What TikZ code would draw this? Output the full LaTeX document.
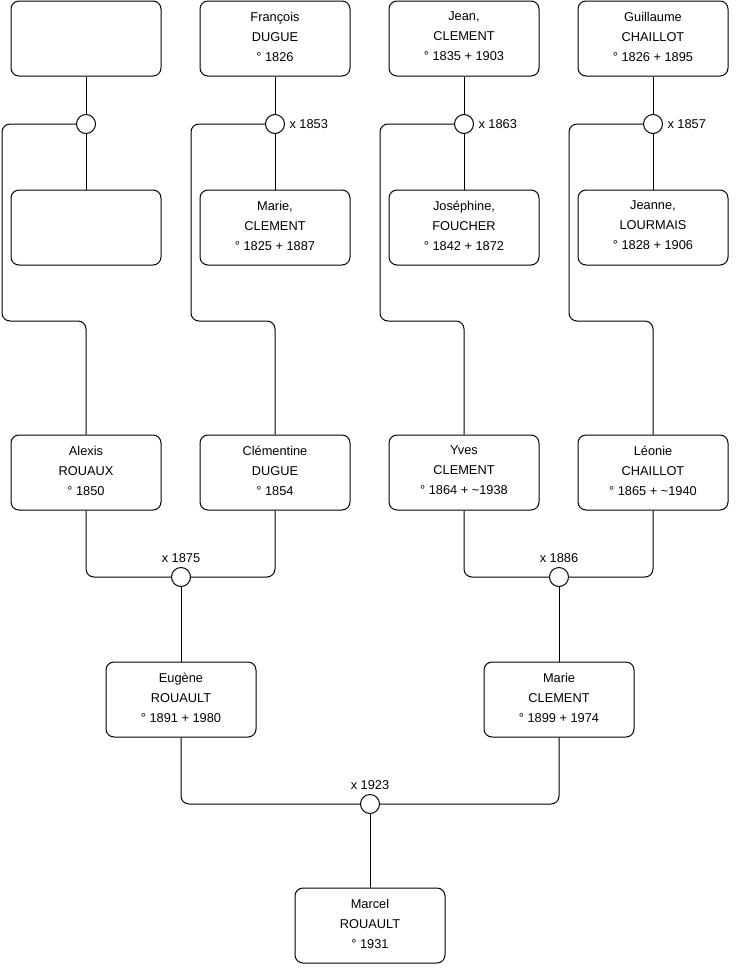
\documentclass[tikz,border=0pt]{standalone}
\usepackage{fontspec}
\setmainfont{Liberation Sans}
\usepackage{tikz}

\begin{document}
\begin{tikzpicture}[x=0.75pt, y=-0.75pt, line width=0.75pt,
  person/.style={draw, rounded corners=6pt, minimum width=112.5pt, minimum height=56.25pt,
    inner sep=0pt, align=center, text depth=3pt, font=\fontsize{9.6}{15}\selectfont},
  union/.style={draw, circle, fill=white, minimum size=14.25pt, inner sep=0pt},
  link/.style={rounded corners=6pt},
  year/.style={font=\fontsize{9.6}{11}\selectfont, inner sep=3pt}]
  \useasboundingbox (0,0) rectangle (740,975);

  % Great-grandfathers
  \node[person] (anon1) at (86,38.5) {};
  \node[person] (francois) at (275,38.5) {François\\DUGUE\\° 1826};
  \node[person] (jean) at (464,38.5) {Jean,\\CLEMENT\\° 1835 + 1903};
  \node[person] (guillaume) at (653,38.5) {Guillaume\\CHAILLOT\\° 1826 + 1895};

  % Great-grandmothers
  \node[person] (anon2) at (86,227.5) {};
  \node[person] (marieA) at (275,227.5) {Marie,\\CLEMENT\\° 1825 + 1887};
  \node[person] (josephine) at (464,227.5) {Joséphine,\\FOUCHER\\° 1842 + 1872};
  \node[person] (jeanne) at (653,227.5) {Jeanne,\\LOURMAIS\\° 1828 + 1906};

  % Grandparents
  \node[person] (alexis) at (86,472.5) {Alexis\\ROUAUX\\° 1850};
  \node[person] (clementine) at (275,472.5) {Clémentine\\DUGUE\\° 1854};
  \node[person] (yves) at (464,472.5) {Yves\\CLEMENT\\° 1864 + \textasciitilde1938};
  \node[person] (leonie) at (653,472.5) {Léonie\\CHAILLOT\\° 1865 + \textasciitilde1940};

  % Parents
  \node[person] (eugene) at (181,699.5) {Eugène\\ROUAULT\\° 1891 + 1980};
  \node[person] (marieB) at (559,699.5) {Marie\\CLEMENT\\° 1899 + 1974};

  % Child
  \node[person] (marcel) at (370,925.5) {Marcel\\ROUAULT\\° 1931};

  % Marriages
  \node[union] (u1) at (86,124) {};
  \node[union] (u2) at (275,124) {};
  \node[union] (u3) at (464,124) {};
  \node[union] (u4) at (653,124) {};
  \node[union] (u5) at (181,577) {};
  \node[union] (u6) at (559,577) {};
  \node[union] (u7) at (370,804) {};

  \node[year, anchor=west] (y2) at (u2.east) {x 1853};
  \node[year, anchor=west] (y3) at (u3.east) {x 1863};
  \node[year, anchor=west] (y4) at (u4.east) {x 1857};
  \node[year, anchor=south] (y5) at (u5.north) {x 1875};
  \node[year, anchor=south] (y6) at (u6.north) {x 1886};
  \node[year, anchor=south] (y7) at (u7.north) {x 1923};

  % Top couples
  \foreach \h/\w/\k/\c/\x in {anon1/anon2/u1/alexis/2, francois/marieA/u2/clementine/191,
      jean/josephine/u3/yves/380, guillaume/jeanne/u4/leonie/569} {
    \draw (\h.south) -- (\k.north);
    \draw (\k.south) -- (\w.north);
    \draw[link] (\k.west) -| (\x,321) -| (\c.north);
  }

  % Grandparents to parents
  \draw[link] (alexis.south) |- (u5.west);
  \draw[link] (clementine.south) |- (u5.east);
  \draw (u5.south) -- (eugene.north);
  \draw[link] (yves.south) |- (u6.west);
  \draw[link] (leonie.south) |- (u6.east);
  \draw (u6.south) -- (marieB.north);

  % Parents to child
  \draw[link] (eugene.south) |- (u7.west);
  \draw[link] (marieB.south) |- (u7.east);
  \draw (u7.south) -- (marcel.north);
\end{tikzpicture}
\end{document}
